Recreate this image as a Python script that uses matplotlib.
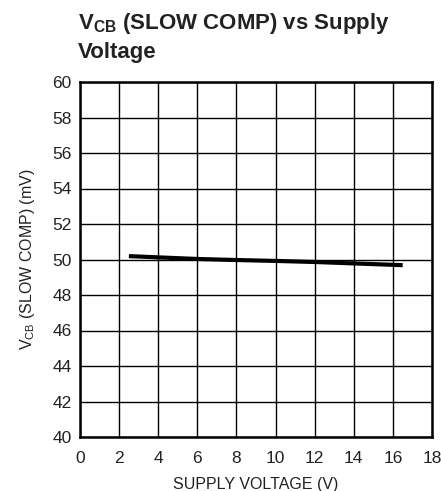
import matplotlib
matplotlib.use("Agg")
import matplotlib.pyplot as plt
from matplotlib import font_manager

supply_v = [2.5, 4, 6, 8, 10, 12, 14, 16.5]
vcb_mv = [50.19, 50.12, 50.03, 49.97, 49.92, 49.86, 49.78, 49.68]
x_ticks = [0, 2, 4, 6, 8, 10, 12, 14, 16, 18]
y_ticks = [40, 42, 44, 46, 48, 50, 52, 54, 56, 58, 60]

names = {f.name for f in font_manager.fontManager.ttflist}
fam = "Liberation Sans Narrow" if "Liberation Sans Narrow" in names else "Liberation Sans"
plt.rcParams['font.family'] = [fam, 'DejaVu Sans']

fig = plt.figure(figsize=(4.41, 4.91), dpi=100)
ax = fig.add_axes([80/441, 1 - 437/491, 352/441, 355/491])
ax.plot(supply_v, vcb_mv, color='black', lw=3, solid_capstyle='butt')
ax.set_xlim(0, 18)
ax.set_ylim(40, 60)
ax.set_xticks(x_ticks)
ax.set_yticks(y_ticks)
ax.tick_params(length=0, labelsize=12.5, colors='#222222')
ax.tick_params(axis='x', pad=10)
ax.tick_params(axis='y', pad=6)
ax.grid(True, color='black', lw=1)
ax.set_axisbelow(True)
for s in ax.spines.values():
    s.set_linewidth(1.8)
ax.set_xlabel("SUPPLY VOLTAGE (V)", fontsize=11.5, labelpad=8, color='#222222')
ax.set_ylabel(r"V$_{\mathregular{CB}}$ (SLOW COMP) (mV)", fontsize=11.5, labelpad=11, color='#222222')
fig.text(78/441, 1 - 11/491, "V$_{\\mathregular{CB}}$ (SLOW COMP) vs Supply\nVoltage",
         fontsize=16, fontweight='bold', va='top', ha='left', color='#222222', linespacing=1.35)
fig.savefig("out.png", dpi=100)
